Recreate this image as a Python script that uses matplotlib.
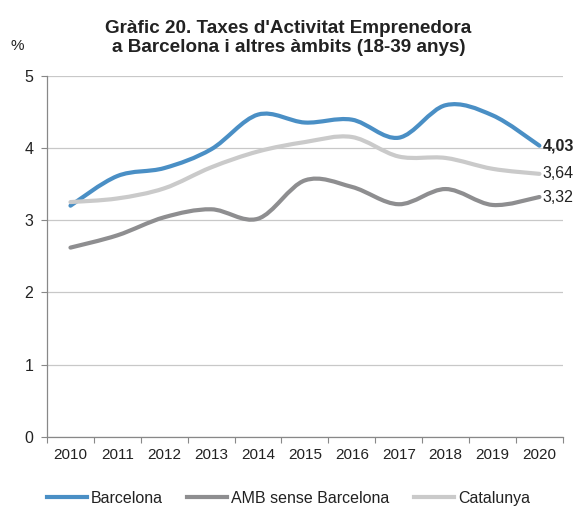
import matplotlib

matplotlib.use("Agg")

import matplotlib.pyplot as plt
from matplotlib.lines import Line2D
from matplotlib.patches import PathPatch
from matplotlib.path import Path

plt.rcParams["font.family"] = ["Liberation Sans", "DejaVu Sans"]

years = [2010, 2011, 2012, 2013, 2014, 2015, 2016, 2017, 2018, 2019, 2020]
barcelona = [3.20, 3.61, 3.72, 3.98, 4.46, 4.35, 4.39, 4.14, 4.59, 4.45, 4.03]
amb = [2.62, 2.79, 3.04, 3.15, 3.02, 3.55, 3.46, 3.22, 3.43, 3.21, 3.32]
catalunya = [3.25, 3.30, 3.44, 3.73, 3.95, 4.08, 4.15, 3.88, 3.86, 3.71, 3.64]

series = [
    ("Barcelona", barcelona, "#4a8fc5", "4,03", "bold"),
    ("AMB sense Barcelona", amb, "#8e8e90", "3,32", "normal"),
    ("Catalunya", catalunya, "#cacaca", "3,64", "normal"),
]

TEXT = "#222222"


def smooth_path(xs, ys):
    # excel-like smoothed line: catmull-rom segments as cubic beziers
    pts = list(zip(xs, ys))
    verts = [pts[0]]
    codes = [Path.MOVETO]
    n = len(pts)
    for i in range(n - 1):
        p0 = pts[i - 1] if i > 0 else pts[i]
        p1 = pts[i]
        p2 = pts[i + 1]
        p3 = pts[i + 2] if i + 2 < n else pts[i + 1]
        c1 = (p1[0] + (p2[0] - p0[0]) / 6, p1[1] + (p2[1] - p0[1]) / 6)
        c2 = (p2[0] - (p3[0] - p1[0]) / 6, p2[1] - (p3[1] - p1[1]) / 6)
        verts += [c1, c2, p2]
        codes += [Path.CURVE4] * 3
    return Path(verts, codes)


fig = plt.figure(figsize=(5.77, 5.07), dpi=100)
ax = fig.add_axes([0.0815, 0.138, 0.894, 0.713])

xs = list(range(len(years)))
ax.set_xlim(-0.5, len(years) - 0.5)
ax.set_ylim(0, 5)

ax.set_yticks([0, 1, 2, 3, 4, 5])
ax.grid(axis="y", color="#c8c8c8", linewidth=0.9)
ax.set_axisbelow(True)

ax.set_xticks([x - 0.5 for x in xs] + [len(years) - 0.5])
ax.set_xticklabels([])
ax.set_xticks(xs, minor=True)
ax.set_xticklabels([str(y) for y in years], minor=True)
ax.tick_params(axis="x", which="minor", length=0, pad=8, labelsize=11, labelcolor=TEXT)
ax.tick_params(axis="x", which="major", length=4, color="#888888", direction="out")
ax.tick_params(axis="y", length=4, color="#888888", labelsize=11.5, labelcolor=TEXT, pad=6)

for side in ("top", "right"):
    ax.spines[side].set_visible(False)
for side in ("left", "bottom"):
    ax.spines[side].set_color("#888888")
    ax.spines[side].set_linewidth(0.9)

handles = []
for name, vals, color, label, weight in series:
    patch = PathPatch(smooth_path(xs, vals), facecolor="none", edgecolor=color,
                      linewidth=3.0, capstyle="round", joinstyle="round", zorder=3)
    ax.add_patch(patch)
    ax.text(xs[-1] + 0.07, vals[-1], label, ha="left", va="center", fontsize=11.5,
            fontweight=weight, color=TEXT, clip_on=False)
    handles.append(Line2D([], [], color=color, linewidth=3.0, label=name))

fig.text(0.03, 0.91, "%", fontsize=11, color=TEXT, ha="center", va="center")
fig.text(0.5, 0.935, "Gràfic 20. Taxes d'Activitat Emprenedora", fontsize=13.6,
         fontweight="bold", color=TEXT, ha="center", va="baseline")
fig.text(0.5, 0.898, "a Barcelona i altres àmbits (18-39 anys)", fontsize=13.6,
         fontweight="bold", color=TEXT, ha="center", va="baseline")

fig.legend(handles=handles, loc="center", bbox_to_anchor=(0.5, 0.017), ncol=3,
           frameon=False, fontsize=11.5, handlelength=2.5, handletextpad=0.25,
           columnspacing=1.55, labelcolor=TEXT)

fig.savefig("out.png", dpi=100)
